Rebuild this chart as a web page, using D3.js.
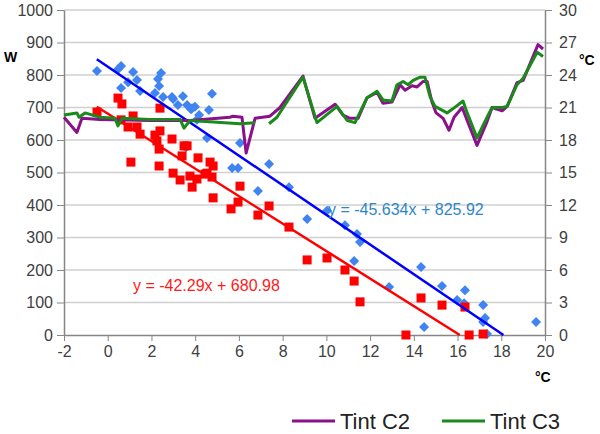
<!DOCTYPE html>
<html>
<head>
<meta charset="utf-8">
<script src="https://cdn.jsdelivr.net/npm/d3@7"></script>
<style>
  body { margin: 0; background: #fff; }
  svg { display: block; font-family: "Liberation Sans", Arial, sans-serif; }
  .axis text { font-size: 16px; fill: #404040; }
  .axis path, .axis line { stroke: #868686; }
</style>
</head>
<body>
<svg id="chart" width="600" height="434"></svg>
<script>
// outdoor temperature (°C) vs power (W), two data sets
var bluePoints = [
  [-0.49, 812], [0.47, 818], [0.61, 828], [0.61, 760], [0.93, 778], [1.16, 809],
  [1.34, 785], [1.48, 751], [2.30, 788], [2.44, 806], [2.35, 766], [2.16, 745],
  [2.53, 732], [2.99, 726], [2.94, 732], [3.44, 735], [3.63, 708], [3.81, 695],
  [3.99, 702], [3.21, 708], [3.86, 698], [4.77, 742], [4.63, 692], [4.18, 677],
  [4.08, 662], [4.54, 606], [3.58, 578], [6.05, 591], [5.69, 514], [5.96, 514],
  [7.38, 526], [6.87, 443], [8.29, 455], [9.12, 357], [10.03, 382], [10.85, 338],
  [11.40, 311], [11.54, 286], [11.27, 228], [12.87, 148], [14.33, 209], [14.47, 25],
  [15.29, 151], [15.98, 108], [16.34, 138], [16.30, 98], [17.17, 92], [17.26, 52],
  [17.17, 40], [17.35, 3], [19.59, 40]
];
var redPoints = [
  [-0.49, 686], [0.47, 729], [0.65, 711], [0.61, 662], [1.16, 674], [0.93, 640],
  [1.34, 640], [1.48, 618], [1.06, 532], [2.39, 698], [2.39, 628], [2.16, 615],
  [2.25, 597], [2.35, 572], [2.35, 520], [2.94, 603], [3.49, 582], [3.63, 582],
  [3.40, 551], [4.13, 545], [4.68, 532], [4.82, 520], [2.99, 498], [3.31, 477],
  [3.76, 489], [4.08, 480], [3.86, 455], [4.45, 495], [4.54, 498], [4.77, 486],
  [4.82, 422], [6.05, 458], [5.96, 409], [5.64, 388], [6.87, 369], [7.38, 397],
  [8.29, 332], [9.12, 231], [10.03, 237], [10.85, 200], [11.27, 166], [11.54, 102],
  [13.64, 0], [14.33, 114], [15.29, 92], [16.34, 86], [16.53, 0], [17.17, 3]
];

// linear trendlines
var trendSlope = [-45.634, -42.29];
var trendIntercept = [825.92, 680.98];
var trendLabels = ["y = -45.634x + 825.92", "y = -42.29x + 680.98"];

// indoor temperatures (right axis), null = no reading
var c2X = [-2, -1.41, -1.18, -0.35, 1.93, 3.76, 5.59, 5.73, 6.14, 6.33, 6.74, 7.42, 7.88, 8.93,
  9.48, 10.40, 10.76, 11.08, 11.45, 11.86, 12.32, 12.59, 13.0, 13.37, 13.60, 13.92, 14.15,
  14.42, 14.61, 14.83, 15.02, 15.34, 15.61, 15.84, 16.21, 16.44, 16.89, 17.35, 17.58, 18.04,
  18.27, 18.72, 19.0, 19.68, 19.91];
var c2T = [20.1, 18.7, 20.0, 19.9, 19.8, 19.8, 20.1, 20.2, 20.1, 16.8, 20.0, 20.2, 21.0, 23.9,
  20.0, 21.3, 20.3, 20.0, 20.0, 21.9, 22.4, 21.4, 21.5, 23.1, 22.6, 23.0, 22.9,
  23.4, 23.4, 21.5, 20.5, 20.0, 18.9, 20.1, 21.0, 19.8, 17.5, 19.7, 21.0, 20.7,
  21.1, 23.3, 23.5, 26.8, 26.4];
var c3X = [-2, -1.41, -1.31, -1.04, -0.35, 0.33, 0.47, 0.65, 1.93, 3.31, 3.49, 3.76, 6.05, 6.74,
  7.0, 7.38, 7.74, 8.93, 9.57, 10.49, 10.95, 11.31, 11.86, 12.32, 12.59, 13.0, 13.23, 13.51,
  13.74, 13.97, 14.29, 14.51, 14.74, 14.97, 15.52, 15.80, 16.25, 16.44, 16.89, 17.35, 17.58,
  18.04, 18.27, 18.72, 19.0, 19.64, 19.91];
var c3T = [20.3, 20.5, 20.1, 20.5, 20.1, 20.0, 19.3, 20.0, 19.9, 19.9, 19.1, 19.8, 19.5, 19.6,
  null, 19.5, 20.1, 23.8, 19.6, 21.1, 19.8, 19.6, 21.9, 22.5, 21.7, 21.6, 23.1, 23.4,
  23.1, 23.5, 23.8, 23.8, 22.0, 21.1, 20.5, 20.9, 21.6, 20.5, 18.2, 20.1, 21.0,
  21.0, 21.1, 23.1, 23.7, 26.1, 25.7];

var seriesNames = ["Tint C2", "Tint C3"];

var xTicks = d3.range(-2, 21, 2);
var wTicks = d3.range(0, 1001, 100);
var tTicks = d3.range(0, 31, 3);

var svg = d3.select("#chart");
var plot = { left: 64, right: 545, top: 10, bottom: 335 };

var x = d3.scaleLinear().domain([-2, 20]).range([plot.left, plot.right]);
var yW = d3.scaleLinear().domain([0, 1000]).range([plot.bottom, plot.top]);
var yT = d3.scaleLinear().domain([0, 30]).range([plot.bottom, plot.top]);

// plain labels: no thousands comma, ascii minus
var plain = d => String(d);

// gridlines
svg.append("g")
  .selectAll("line")
  .data(wTicks.filter(d => d > 0))
  .enter().append("line")
    .attr("x1", plot.left)
    .attr("x2", plot.right)
    .attr("y1", d => yW(d))
    .attr("y2", d => yW(d))
    .attr("stroke", "#d0d0d0")
    .attr("stroke-width", 1.5);

// axes
svg.append("g")
  .classed("axis", true)
  .attr("transform", "translate(" + plot.left + ",0)")
  .call(d3.axisLeft(yW).tickValues(wTicks).tickFormat(plain)
    .tickSize(7).tickPadding(4).tickSizeOuter(0));

svg.append("g")
  .classed("axis", true)
  .attr("transform", "translate(" + plot.right + ",0)")
  .call(d3.axisRight(yT).tickValues(tTicks).tickFormat(plain)
    .tickSize(7).tickPadding(7).tickSizeOuter(0));

svg.append("g")
  .classed("axis", true)
  .attr("transform", "translate(0," + plot.bottom + ")")
  .call(d3.axisBottom(x).tickValues(xTicks).tickFormat(plain)
    .tickSize(6).tickPadding(5).tickSizeOuter(0));

svg.selectAll(".axis path").attr("stroke-width", 1.5);

// scatter: blue diamonds, red squares
svg.append("g")
  .selectAll("path")
  .data(bluePoints)
  .enter().append("path")
    .attr("transform", d => "translate(" + x(d[0]) + "," + yW(d[1]) + ")")
    .attr("d", "M0,-5L5,0L0,5L-5,0Z")
    .attr("fill", "#3f84f0");

svg.append("g")
  .selectAll("rect")
  .data(redPoints)
  .enter().append("rect")
    .attr("x", d => x(d[0]) - 4.5)
    .attr("y", d => yW(d[1]) - 4.5)
    .attr("width", 9)
    .attr("height", 9)
    .attr("fill", "#ff0000");

// trendlines from x = -0.5 down to zero power
var trendColors = ["#0000ff", "#ff0000"];
trendSlope.forEach(function(m, i) {
  var b = trendIntercept[i];
  var x0 = -0.5, x1 = -b / m;
  svg.append("line")
    .attr("x1", x(x0)).attr("y1", yW(m * x0 + b))
    .attr("x2", x(x1)).attr("y2", yW(0))
    .attr("stroke", trendColors[i])
    .attr("stroke-width", 2.5);
});

svg.append("text")
  .attr("x", 328).attr("y", 215)
  .attr("font-size", 16)
  .attr("fill", "#2e86c8")
  .text(trendLabels[0]);

svg.append("text")
  .attr("x", 133).attr("y", 291)
  .attr("font-size", 16)
  .attr("fill", "#ff1a1a")
  .text(trendLabels[1]);

// temperature lines
var tempColors = ["#8b108b", "#1a8a1a"];
var tempLine = d3.line()
  .defined(d => d[1] != null)
  .x(d => x(d[0]))
  .y(d => yT(d[1]));

[[c2X, c2T], [c3X, c3T]].forEach(function(s, i) {
  var pts = s[0].map((v, j) => [v, s[1][j]]);
  svg.append("path")
    .datum(pts)
    .attr("d", tempLine)
    .attr("fill", "none")
    .attr("stroke", tempColors[i])
    .attr("stroke-width", 3)
    .attr("stroke-linejoin", "round");
});

// axis titles
svg.append("text").attr("x", 4).attr("y", 62)
  .attr("font-size", 14).attr("font-weight", "bold").text("W");
svg.append("text").attr("x", 579).attr("y", 65)
  .attr("font-size", 14).attr("font-weight", "bold").text("°C");
svg.append("text").attr("x", 535).attr("y", 382)
  .attr("font-size", 14).attr("font-weight", "bold").text("°C");

// legend
var legend = svg.append("g")
  .selectAll("g")
  .data(seriesNames)
  .enter().append("g")
    .attr("transform", (d, i) => "translate(" + (292 + i * 150) + ",421)");

legend.append("line")
  .attr("x1", 0).attr("x2", 43)
  .attr("stroke", (d, i) => tempColors[i])
  .attr("stroke-width", 3);

legend.append("text")
  .attr("x", 48).attr("y", 8)
  .attr("font-size", 22)
  .attr("fill", "#222")
  .text(d => d);
</script>
</body>
</html>
